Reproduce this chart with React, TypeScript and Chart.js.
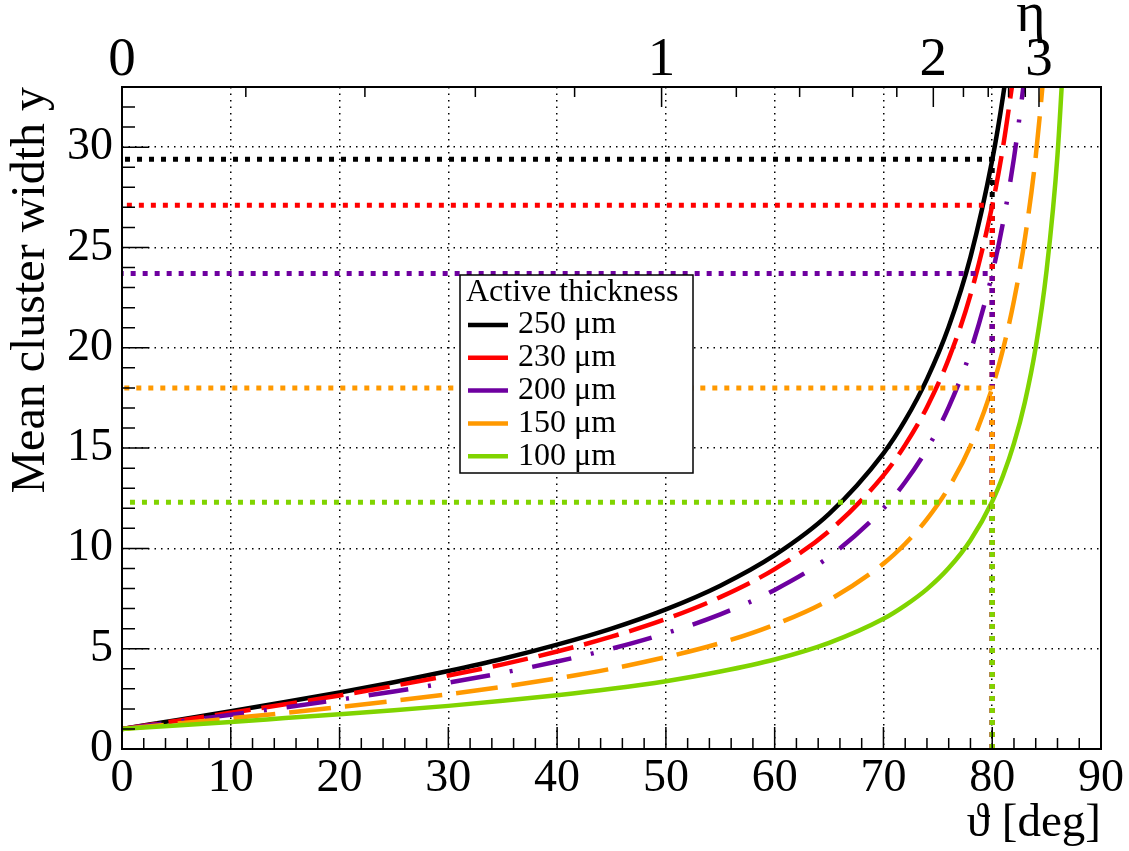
import { useEffect, useRef } from "react";
import { Chart, registerables } from "chart.js";

Chart.register(...registerables);

const SERIF = '"Liberation Serif", "DejaVu Serif", serif';

// polar angle samples (deg)
const angles = [0, 5, 10, 15, 20, 25, 30, 35, 40, 45, 50, 55, 60, 65, 70, 72, 74, 76, 78, 80, 81, 82, 83, 84, 85, 86, 87];

// mean cluster width
const width250 = [1, 1.44, 1.88, 2.34, 2.82, 3.33, 3.89, 4.5, 5.2, 6.0, 6.96, 8.14, 9.66, 11.72, 14.74, 16.39, 18.44, 21.05, 24.52, 29.36, 32.57, 36.58];
const width230 = [1, 1.4, 1.81, 2.23, 2.67, 3.15, 3.66, 4.22, 4.86, 5.6, 6.48, 7.57, 8.97, 10.86, 13.64, 15.16, 17.04, 19.45, 22.64, 27.09, 30.04, 33.73];
const width200 = [1, 1.35, 1.71, 2.07, 2.46, 2.87, 3.31, 3.8, 4.36, 5.0, 5.77, 6.71, 7.93, 9.58, 11.99, 13.31, 14.95, 17.04, 19.82, 23.69, 26.26, 29.46, 33.58];
const width150 = [1, 1.26, 1.53, 1.8, 2.09, 2.4, 2.73, 3.1, 3.52, 4.0, 4.58, 5.28, 6.2, 7.43, 9.24, 10.23, 11.46, 13.03, 15.11, 18.01, 19.94, 22.35, 25.43, 29.54, 35.29];
const width100 = [1, 1.17, 1.35, 1.54, 1.73, 1.93, 2.15, 2.4, 2.68, 3.0, 3.38, 3.86, 4.46, 5.29, 6.49, 7.16, 7.97, 9.02, 10.41, 12.34, 13.63, 15.23, 17.29, 20.03, 23.86, 29.6, 39.16];

const seriesLabels = ["250 μm", "230 μm", "200 μm", "150 μm", "100 μm"];
const seriesColors = ["#000000", "#ff0000", "#6e00a0", "#ff9900", "#80d400"];
const seriesDash = [[], [36, 11], [40, 20, 3, 20], [42, 14], []];

// width at the reference angle, per thickness
const refLevels = [29.4, 27.1, 23.7, 18.0, 12.3];
const refAngle = 80;

const xTicks = [0, 10, 20, 30, 40, 50, 60, 70, 80, 90];
const yTicks = [0, 5, 10, 15, 20, 25, 30];
const etaTicks = [0, 1, 2, 3];

const etaToTheta = (eta: number) => 90 - (2 * Math.atan(Math.exp(-eta)) * 180) / Math.PI;

const decorations = {
  id: "decorations",
  afterDatasetsDraw(chart: any) {
    const { ctx, chartArea: a, scales } = chart;
    const x = scales.x;
    const y = scales.y;
    ctx.save();

    // legend box
    const lx = 460, ly = 275, lw = 233, lh = 198;
    ctx.fillStyle = "#fff";
    ctx.fillRect(lx, ly, lw, lh);
    ctx.strokeStyle = "#000";
    ctx.lineWidth = 1.5;
    ctx.strokeRect(lx, ly, lw, lh);
    ctx.fillStyle = "#000";
    ctx.font = `32px ${SERIF}`;
    ctx.textBaseline = "middle";
    ctx.textAlign = "left";
    ctx.fillText("Active thickness", 466, 293);
    seriesLabels.forEach((lab, i) => {
      const ry = 325 + i * 32.8;
      ctx.strokeStyle = seriesColors[i];
      ctx.lineWidth = 4.5;
      ctx.beginPath();
      ctx.moveTo(468, ry);
      ctx.lineTo(508, ry);
      ctx.stroke();
      ctx.fillStyle = "#000";
      ctx.fillText(lab, 518, ry);
    });

    // inward tick marks
    ctx.strokeStyle = "#000";
    ctx.lineWidth = 1.5;
    ctx.beginPath();
    for (let v = 0; v <= 90; v += 2) {
      const px = x.getPixelForValue(v);
      const len = v % 10 === 0 ? 22 : 11;
      ctx.moveTo(px, a.bottom);
      ctx.lineTo(px, a.bottom - len);
    }
    for (let v = 0; v <= 33; v += 1) {
      const py = y.getPixelForValue(v);
      const len = v % 5 === 0 ? 27 : 13;
      ctx.moveTo(a.left, py);
      ctx.lineTo(a.left + len, py);
    }
    for (let k = 0; k <= 15; k++) {
      const px = x.getPixelForValue(etaToTheta(k * 0.2));
      const len = k % 5 === 0 ? 20 : 10;
      ctx.moveTo(px, a.top);
      ctx.lineTo(px, a.top + len);
    }
    ctx.stroke();

    // frame
    ctx.lineWidth = 2;
    ctx.strokeRect(a.left, a.top, a.right - a.left, a.bottom - a.top);

    // eta axis title
    ctx.fillStyle = "#000";
    ctx.font = `56px ${SERIF}`;
    ctx.textAlign = "center";
    ctx.textBaseline = "alphabetic";
    ctx.fillText("η", a.right - 70, 31);
    ctx.restore();
  },
};

export default function App() {
  const canvasRef = useRef<HTMLCanvasElement>(null);
  const chartRef = useRef<Chart | null>(null);

  useEffect(() => {
    document.body.style.margin = "0";
    if (!canvasRef.current) return;

    const curves = [width250, width230, width200, width150, width100];
    const curveSets = curves.map((vals, i) => ({
      label: seriesLabels[i],
      data: vals.map((v, j) => ({ x: angles[j], y: v })),
      borderColor: seriesColors[i],
      borderWidth: 4.5,
      borderDash: seriesDash[i],
      borderCapStyle: "butt" as const,
      pointRadius: 0,
      cubicInterpolationMode: "monotone" as const,
      order: 10 - i,
    }));
    // drawn from the axis upward, then back to the y axis, so the dots line up
    const refSets = refLevels.map((lvl, i) => ({
      label: "ref " + seriesLabels[i],
      data: [
        { x: refAngle, y: 0 },
        { x: refAngle, y: lvl },
        { x: 0, y: lvl },
      ],
      borderColor: seriesColors[i],
      borderWidth: 5,
      borderDash: [5, 7],
      borderCapStyle: "butt" as const,
      pointRadius: 0,
      tension: 0,
      order: 4 - i,
    }));

    chartRef.current?.destroy();
    chartRef.current = new Chart(canvasRef.current.getContext("2d")!, {
      type: "line",
      data: { datasets: [...curveSets, ...refSets] },
      options: {
        animation: false,
        responsive: false,
        devicePixelRatio: 1,
        layout: { padding: { left: 0, right: 28, top: 0, bottom: 0 } },
        plugins: { legend: { display: false }, tooltip: { enabled: false } },
        scales: {
          x: {
            type: "linear",
            position: "bottom",
            min: 0,
            max: 90,
            afterBuildTicks: (s: any) => {
              s.ticks = xTicks.map((v) => ({ value: v }));
            },
            afterFit: (s: any) => {
              s.height = 102;
            },
            ticks: { color: "#000", font: { family: SERIF, size: 46 }, padding: 2, autoSkip: false, maxRotation: 0 },
            grid: { color: "#000", lineWidth: 1.5, drawTicks: false },
            border: { display: false, dash: [1.5, 5] },
            title: {
              display: true,
              text: "ϑ [deg]",
              align: "end",
              color: "#000",
              font: { family: SERIF, size: 47, lineHeight: 1 },
              padding: { top: 0, bottom: 4 },
            },
          },
          x2: {
            type: "linear",
            position: "top",
            min: 0,
            max: 90,
            afterBuildTicks: (s: any) => {
              s.ticks = etaTicks.map((e) => ({ value: etaToTheta(e) }));
            },
            afterFit: (s: any) => {
              s.height = 87;
            },
            ticks: {
              color: "#000",
              font: { family: SERIF, size: 55, lineHeight: 1 },
              padding: -1,
              autoSkip: false,
              maxRotation: 0,
              callback: (_v: any, i: number) => String(etaTicks[i]),
            },
            grid: { display: false, drawTicks: false },
            border: { display: false },
          },
          y: {
            type: "linear",
            min: 0,
            max: 33,
            afterBuildTicks: (s: any) => {
              s.ticks = yTicks.map((v) => ({ value: v }));
            },
            afterFit: (s: any) => {
              s.width = 122;
            },
            ticks: { color: "#000", font: { family: SERIF, size: 46 }, padding: 9, autoSkip: false },
            grid: { color: "#000", lineWidth: 1.5, drawTicks: false },
            border: { display: false, dash: [1.5, 5] },
            title: {
              display: true,
              text: "Mean cluster width y",
              align: "end",
              color: "#000",
              font: { family: SERIF, size: 48, lineHeight: 1 },
              padding: { top: 7, bottom: 0 },
            },
          },
        },
      },
      plugins: [decorations],
    });

    return () => {
      chartRef.current?.destroy();
      chartRef.current = null;
    };
  }, []);

  return (
    <div style={{ width: 1129, height: 851, background: "#fff" }}>
      <canvas ref={canvasRef} width={1129} height={851} />
    </div>
  );
}
